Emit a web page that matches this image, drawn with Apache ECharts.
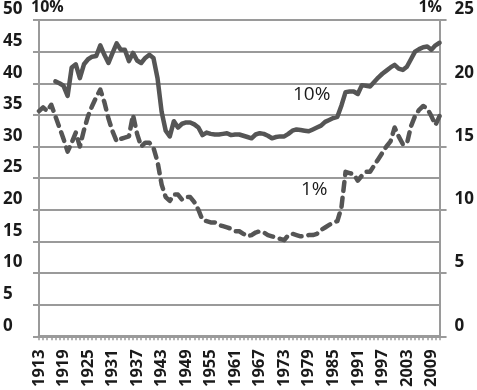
<!DOCTYPE html>
<html><head><meta charset="utf-8">
<script src="https://cdn.jsdelivr.net/npm/echarts@6/dist/echarts.min.js"></script>
<style>html,body{margin:0;padding:0;background:#fff}#c{width:477px;height:390px}</style>
</head><body><div id="c"></div>
<script>
const years = [];
for (let y = 1913; y <= 2011; y++) years.push(String(y));

const top10 = [null,null,null,null,
40.3,40.0,39.6,38.0,42.5,43.0,40.8,43.0,43.8,44.2,44.3,46.0,44.5,43.2,44.8,46.3,45.3,45.3,43.5,44.8,43.6,43.2,44.0,44.5,44.0,40.8,
35.5,32.5,31.6,34.0,33.0,33.6,33.8,33.8,33.5,33.0,31.8,32.2,32.0,31.9,31.9,32.0,32.1,31.8,31.9,31.9,31.7,31.5,31.3,31.9,32.1,32.0,
31.7,31.3,31.5,31.6,31.6,32.0,32.5,32.7,32.6,32.5,32.4,32.7,33.0,33.3,33.9,34.2,34.5,34.7,36.5,38.6,38.7,38.7,38.3,39.7,39.6,39.5,
40.2,40.9,41.5,42.0,42.5,42.9,42.3,42.1,42.6,43.8,45.0,45.4,45.7,45.8,45.3,46.0,46.4];

const top1 = [17.8,18.1,17.8,18.3,17.4,16.5,15.6,14.6,15.3,16.1,15.0,16.3,17.4,18.2,18.9,19.5,18.5,17.2,16.2,15.4,15.6,15.7,15.8,17.5,
16.0,15.0,15.3,15.3,14.9,13.8,12.0,11.0,10.7,11.2,11.2,10.8,11.0,11.0,10.6,10.0,9.2,9.1,9.0,9.0,8.8,8.7,8.6,8.5,8.3,8.3,8.1,7.9,8.0,
8.2,8.3,8.2,8.0,7.9,7.8,7.7,7.6,8.0,8.1,8.0,7.9,7.9,8.0,8.0,8.1,8.4,8.6,8.8,9.0,9.1,10.2,13.0,12.9,12.8,12.3,12.7,13.0,13.0,13.5,
14.0,14.5,15.0,15.4,16.5,15.8,15.2,15.2,16.6,17.4,17.9,18.2,18.0,17.4,16.7,17.4];

const leftTicks = [0, 50, 5];
const rightTicks = [0, 25, 5];
const leftName = '10%', rightName = '1%';
const inlineLabels = ['10%', '1%'];

const lineCol = '#555555', gridCol = '#9a9a9a', txtCol = '#1a1a1a';
const FONT = 'Open Sans';

const chart = echarts.init(document.getElementById('c'));
chart.setOption({
  animation: false,
  backgroundColor: '#fff',
  grid: {left: 36, right: 37, top: 20, bottom: 52},
  xAxis: {
    type: 'category', data: years, boundaryGap: false,
    axisLine: {lineStyle: {color: gridCol, width: 3}},
    axisTick: {interval: 0, length: 4, lineStyle: {color: gridCol, width: 1.5}},
    axisLabel: {interval: 5, rotate: 90, margin: 13, color: txtCol, fontFamily: FONT, fontWeight: 'bold', fontSize: 16.5},
    splitLine: {show: false}
  },
  yAxis: [{
    type: 'value', min: leftTicks[0], max: leftTicks[1], interval: leftTicks[2], position: 'left',
    axisLine: {show: true, lineStyle: {color: gridCol, width: 2}},
    axisTick: {show: true, length: 6, lineStyle: {color: gridCol, width: 2}},
    axisLabel: {align: 'left', margin: 36, verticalAlign: 'bottom', padding: [0,0,2,0], color: txtCol, fontFamily: FONT, fontWeight: 'bold', fontSize: 17},
    splitLine: {show: true, lineStyle: {color: gridCol, width: 2}}
  }, {
    type: 'value', min: rightTicks[0], max: rightTicks[1], interval: rightTicks[2], position: 'right',
    axisLine: {show: true, lineStyle: {color: gridCol, width: 2}},
    axisTick: {show: true, length: 7, lineStyle: {color: gridCol, width: 2}},
    axisLabel: {align: 'left', margin: 15, verticalAlign: 'bottom', padding: [0,0,2,0], color: txtCol, fontFamily: FONT, fontWeight: 'bold', fontSize: 17},
    splitLine: {show: false}
  }],
  series: [{
    name: '10%', type: 'line', yAxisIndex: 0, data: top10, showSymbol: false, connectNulls: false,
    lineStyle: {color: lineCol, width: 4.5, cap: 'round', join: 'round'}
  }, {
    name: '1%', type: 'line', yAxisIndex: 1, data: top1, showSymbol: false,
    lineStyle: {color: lineCol, width: 4.5, type: [9, 7], cap: 'round', join: 'round'}
  }],
  graphic: [
    {type: 'text', left: 31, top: -1, style: {text: leftName, fill: txtCol, font: 'bold 16px "Open Sans"'}},
    {type: 'text', right: 35, top: -1, style: {text: rightName, fill: txtCol, font: 'bold 16px "Open Sans"'}},
    {type: 'text', left: 293, top: 85, style: {text: inlineLabels[0], fill: txtCol, font: '19px "Open Sans"'}},
    {type: 'text', left: 301, top: 180, style: {text: inlineLabels[1], fill: txtCol, font: '19px "Open Sans"'}}
  ]
});
</script></body></html>
